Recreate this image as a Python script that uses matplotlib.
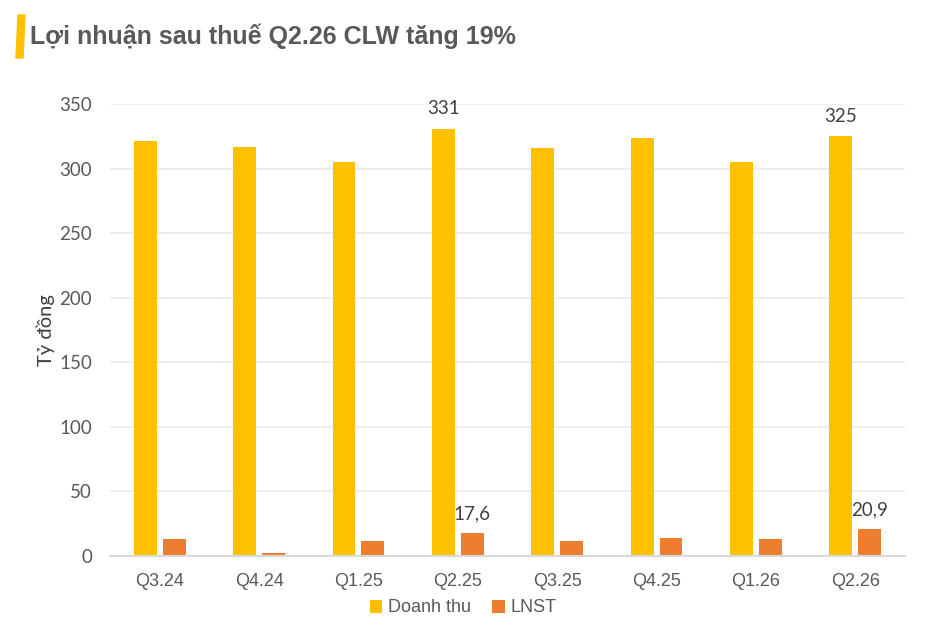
import matplotlib
matplotlib.use("Agg")
import matplotlib.pyplot as plt
import numpy as np
from matplotlib.patches import Polygon

categories = ["Q3.24", "Q4.24", "Q1.25", "Q2.25", "Q3.25", "Q4.25", "Q1.26", "Q2.26"]
doanh_thu = [321, 317, 305, 331, 316, 324, 305, 325]
lnst = [13.4, 2.3, 11.6, 17.6, 11.6, 14.0, 13.2, 20.9]
dt_labels = {3: "331", 7: "325"}
ln_labels = {3: "17,6", 7: "20,9"}
yticks = [0, 50, 100, 150, 200, 250, 300, 350]

YELLOW = "#FFC000"
ORANGE = "#ED7D31"
GRAY = "#595959"

fig = plt.figure(figsize=(9.26, 6.4), dpi=100)
ax = fig.add_axes([110/926, 1-556/640, (905-110)/926, (556-104)/640])

x = np.arange(len(categories))
w = 0.23
off = 0.145
ax.bar(x - off, doanh_thu, w, color=YELLOW, label="Doanh thu", zorder=3)
ax.bar(x + off, lnst, w, color=ORANGE, label="LNST", zorder=3)

for i, t in dt_labels.items():
    ax.annotate(t, (x[i] - off, doanh_thu[i]), xytext=(0, 8), textcoords="offset points",
                ha="center", va="bottom", fontsize=13.5, family="Lato", color="#404040")
for i, t in ln_labels.items():
    ax.annotate(t, (x[i] + off, lnst[i]), xytext=(0, 8), textcoords="offset points",
                ha="center", va="bottom", fontsize=13.5, family="Lato", color="#404040")

ax.set_xlim(-0.5, len(categories) - 0.5)
ax.set_ylim(0, 350)
ax.set_yticks(yticks)
ax.set_yticklabels([str(v) for v in yticks], family="Lato", fontsize=13.5, color=GRAY)
ax.set_xticks(x)
ax.set_xticklabels(categories, family="Liberation Sans", fontsize=13, color=GRAY)
ax.tick_params(axis="both", length=0)
ax.tick_params(axis="y", pad=13)
ax.tick_params(axis="x", pad=12)
ax.grid(axis="y", color="#EBEBEB", linewidth=1.2, zorder=0)
for s in ["top", "right", "left"]:
    ax.spines[s].set_visible(False)
ax.spines["bottom"].set_color("#D9D9D9")
ax.spines["bottom"].set_linewidth(1.5)
ax.spines["bottom"].set_zorder(4)

ax.set_ylabel("Tỷ đồng", family="Lato", fontsize=14.5, color="#404040", labelpad=3)

leg = fig.legend(loc="center", bbox_to_anchor=(0.5, 1-608/640), ncol=2, frameon=False,
                 prop={"family": "Liberation Sans", "size": 13},
                 handlelength=0.7, handleheight=0.7, handletextpad=0.3, columnspacing=1.2)
for t in leg.get_texts():
    t.set_color(GRAY)

fig.text(30/926, 1-36/640, "Lợi nhuận sau thuế Q2.26 CLW tăng 19%", family="Liberation Sans",
         fontsize=18, fontweight="bold", color=GRAY, va="center", ha="left")
bar = Polygon([[16/926, 1-58/640], [23/926, 1-58/640], [25/926, 1-15/640], [18/926, 1-15/640]],
              closed=True, transform=fig.transFigure, color=YELLOW)
fig.patches.append(bar)

fig.savefig("out.png", dpi=100)
